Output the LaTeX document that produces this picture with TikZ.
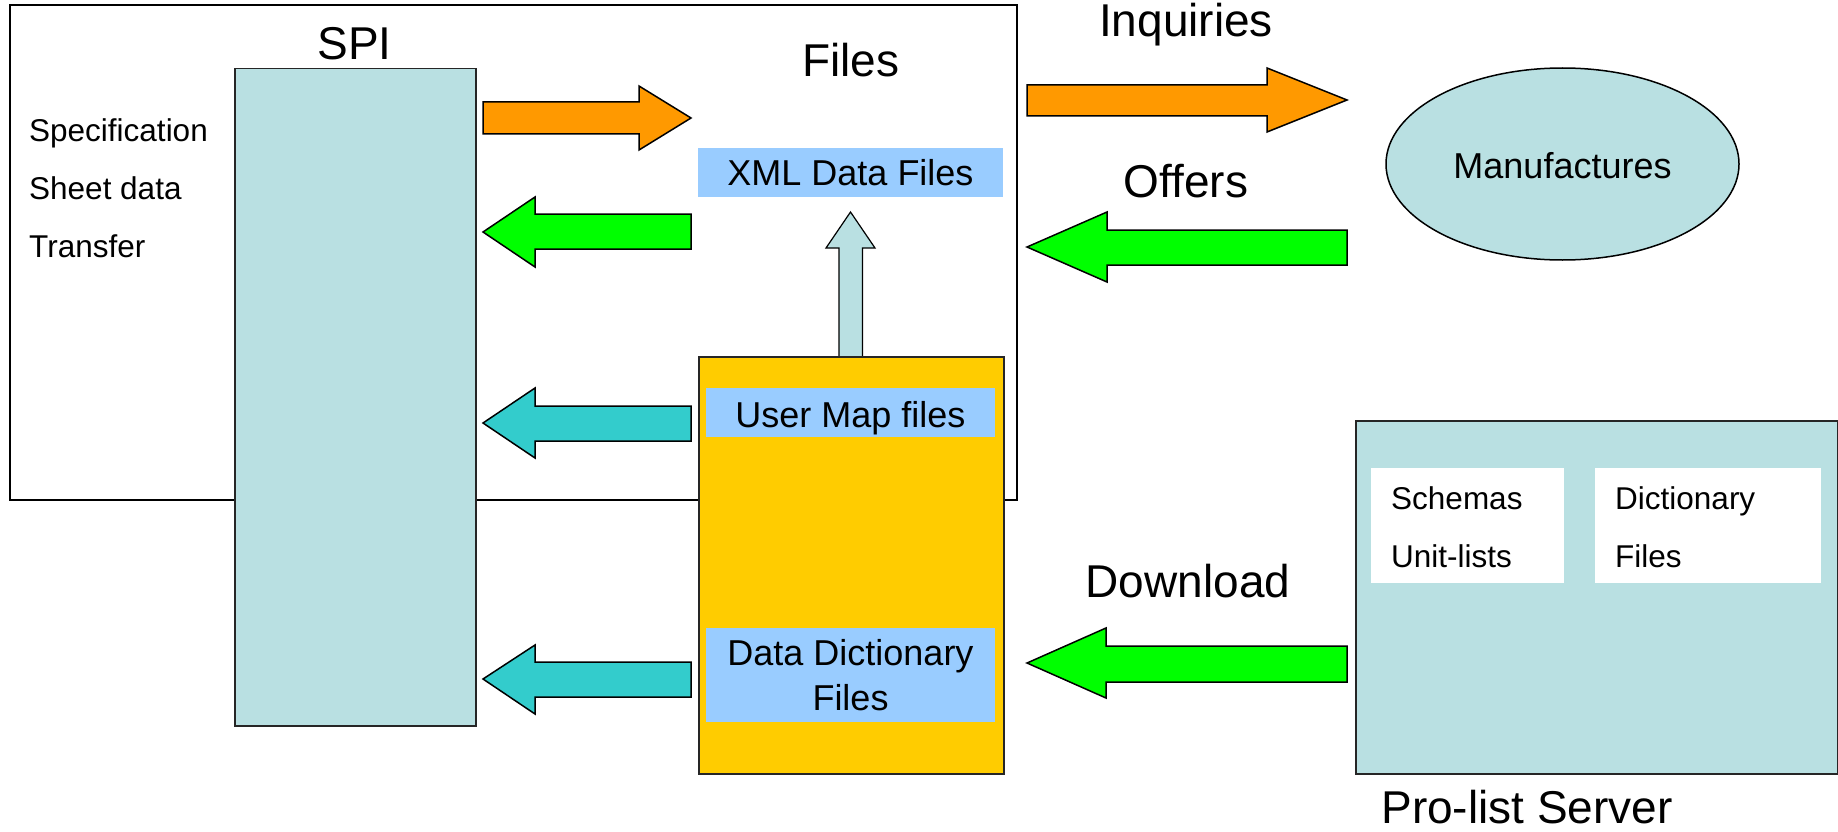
\documentclass[tikz,border=0pt]{standalone}
\usepackage{fontspec}
\setmainfont{Liberation Sans}
\usetikzlibrary{shapes.geometric}
\definecolor{tealbg}{HTML}{B9E0E2}
\definecolor{orangeA}{HTML}{FF9900}
\definecolor{greenA}{HTML}{00FF00}
\definecolor{cyanA}{HTML}{33CCCC}
\definecolor{blueBox}{HTML}{99CCFF}
\definecolor{yellowBox}{HTML}{FFCC00}
\tikzset{
  bigtxt/.style={font=\fontsize{46}{55}\selectfont, anchor=base, inner sep=0pt},
  midtxt/.style={font=\fontsize{36}{45}\selectfont, anchor=base, inner sep=0pt},
  smalltxt/.style={font=\fontsize{31.5}{38}\selectfont, anchor=base west, inner sep=0pt},
  boxshape/.style={draw=black!85, line width=1.5pt},
  arrowshape/.style={draw=black, line width=1.5pt, line join=miter},
  lbl/.style={fill=blueBox, inner sep=0pt},
}
\begin{document}
\begin{tikzpicture}[x=1pt,y=-1pt]
\useasboundingbox (0,0) rectangle (1838,832);
% outer frame
\draw[line width=2.2pt] (10,5) rectangle (1017,500);
% SPI box
\node[boxshape, fill=tealbg, minimum width=241pt, minimum height=657pt, inner sep=0pt, anchor=north west] (spi) at (234,68) {};
\node[bigtxt] (spit) at (354.5,60) {SPI};
\node[smalltxt] (t1) at (29,141) {Specification};
\node[smalltxt] (t2) at (29,199) {Sheet data};
\node[smalltxt] (t3) at (29,257) {Transfer};
% Files
\node[bigtxt] (filest) at (851,77) {Files};
\node[lbl, minimum width=305pt, minimum height=49pt, anchor=north west] (xml) at (698,148) {};
\node[midtxt] at (850.5,185) {XML Data Files};
% up arrow
\draw[arrowshape, fill=tealbg, line width=1.2pt] (839,356) -- (839,248) -- (826,248) -- (850.5,212) -- (875,248) -- (862.5,248) -- (862.5,356);
% yellow box
\node[boxshape, fill=yellowBox, minimum width=305pt, minimum height=417pt, inner sep=0pt, anchor=north west] (yb) at (698,356) {};
\node[lbl, minimum width=289pt, minimum height=49pt, anchor=north west] (umap) at (706,388) {};
\node[midtxt] at (850.5,427) {User Map files};
\node[lbl, minimum width=289pt, minimum height=94pt, anchor=north west] (ddict) at (706,628) {};
\node[midtxt] at (850.5,665) {Data Dictionary};
\node[midtxt] at (850.5,710) {Files};
% left arrows
\draw[arrowshape, fill=orangeA] (483,102) -- (639,102) -- (639,86) -- (691,118) -- (639,150) -- (639,134) -- (483,134) -- cycle;
\draw[arrowshape, fill=greenA] (691,214) -- (535,214) -- (535,197) -- (483,232) -- (535,267) -- (535,249) -- (691,249) -- cycle;
\draw[arrowshape, fill=cyanA] (691,406) -- (535,406) -- (535,388) -- (483,423) -- (535,458) -- (535,441) -- (691,441) -- cycle;
\draw[arrowshape, fill=cyanA] (691,662) -- (535,662) -- (535,645) -- (483,679) -- (535,714) -- (535,697) -- (691,697) -- cycle;
% right side
\node[bigtxt] (inq) at (1186,37) {Inquiries};
\draw[arrowshape, fill=orangeA] (1027,85) -- (1267,85) -- (1267,68) -- (1347,100) -- (1267,132) -- (1267,116) -- (1027,116) -- cycle;
\node[bigtxt] (off) at (1186,197) {Offers};
\draw[arrowshape, fill=greenA] (1347,230) -- (1107,230) -- (1107,212) -- (1027,247) -- (1107,282) -- (1107,265) -- (1347,265) -- cycle;
\node[ellipse, draw=black, line width=1.5pt, fill=tealbg, minimum width=353pt, minimum height=192pt, inner sep=0pt] (man) at (1562.5,164) {};
\node[midtxt] at (1562.5,178) {Manufactures};
% server
\node[bigtxt] (dl) at (1188,597) {Download};
\draw[arrowshape, fill=greenA] (1347,646) -- (1106,646) -- (1106,628) -- (1027,663) -- (1106,698) -- (1106,682) -- (1347,682) -- cycle;
\node[boxshape, fill=tealbg, minimum width=482pt, minimum height=353pt, inner sep=0pt, anchor=north west] (srv) at (1355,420) {};
\node[fill=white, minimum width=193pt, minimum height=115pt, inner sep=0pt, anchor=north west] (sch) at (1371,468) {};
\node[fill=white, minimum width=226pt, minimum height=115pt, inner sep=0pt, anchor=north west] (dic) at (1595,468) {};
\node[smalltxt] at (1391,509) {Schemas};
\node[smalltxt] at (1391,567) {Unit-lists};
\node[smalltxt] at (1615,509) {Dictionary};
\node[smalltxt] at (1615,567) {Files};
\node[bigtxt] (pls) at (1527,823) {Pro-list Server};
\end{tikzpicture}
\end{document}
